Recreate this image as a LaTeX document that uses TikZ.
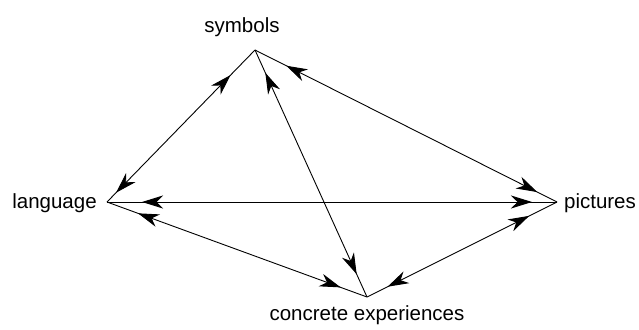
\documentclass[tikz,border=0pt]{standalone}
\usepackage{fontspec}
\setmainfont{Liberation Sans}
\usetikzlibrary{arrows.meta,decorations.markings}
\tikzset{
  mytip/.tip={Stealth[length=21pt,width=13pt,inset=6.5pt]},
  word/.style={font=\fontsize{20.5}{24}\selectfont, inner sep=0pt, anchor=base},
  % a line with one arrow head near each end, set back from the corner
  link/.style 2 args={line width=0.9pt, postaction={decorate},
    decoration={markings,
      mark=at position #1 with {\arrowreversed{mytip}},
      mark=at position -#2 with {\arrow{mytip}}}}
}
\begin{document}
\begin{tikzpicture}[x=1pt,y=-1pt]
\useasboundingbox (0,0) rectangle (639,329);

% corners of the figure
\coordinate (S) at (255,50);
\coordinate (L) at (107,202);
\coordinate (C) at (367,297);
\coordinate (P) at (557,202);

% labels
\node[word] (symbols) at (242,33) {symbols};
\node[word] (language) at (54.5,208) {language};
\node[word] (pictures) at (600,208) {pictures};
\node[word] (concrete) at (367,320) {concrete experiences};

% connectors
\draw[link={13pt}{35pt}] (L) -- (S);
\draw[link={35pt}{22pt}] (S) -- (P);
\draw[link={25pt}{25pt}] (S) -- (C);
\draw[link={35pt}{25pt}] (L) -- (P);
\draw[link={33pt}{28pt}] (L) -- (C);
\draw[link={23pt}{31pt}] (C) -- (P);
\end{tikzpicture}
\end{document}
